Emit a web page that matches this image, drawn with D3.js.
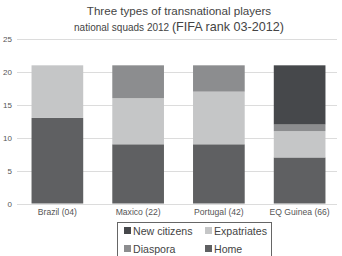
<!DOCTYPE html>
<html>
<head>
<meta charset="utf-8">
<script src="https://cdn.jsdelivr.net/npm/d3@7"></script>
<style>
  body { margin: 0; background: #fff; }
  svg { display: block; font-family: "Liberation Sans", Arial, sans-serif; }
</style>
</head>
<body>
<div id="chart"></div>
<script>
// data
var countries = ["Brazil (04)", "Maxico (22)", "Portugal (42)", "EQ Guinea (66)"];
var home = [13, 9, 9, 7];
var expatriates = [8, 7, 8, 4];
var diaspora = [0, 5, 4, 1];
var newCitizens = [0, 0, 0, 9];
var yTicks = [0, 5, 10, 15, 20, 25];

var seriesNames = ["Home", "Expatriates", "Diaspora", "New citizens"];
var seriesColors = ["#5f6062", "#c5c6c7", "#8c8d8f", "#46484b"];

var width = 342, height = 256;
var margin = {top: 39, left: 17, right: 2, bottom: 52};

var svg = d3.select("#chart").append("svg")
    .attr("width", width)
    .attr("height", height);

var table = countries.map(function(c, i) {
    return {country: c, "Home": home[i], "Expatriates": expatriates[i],
            "Diaspora": diaspora[i], "New citizens": newCitizens[i]};
});

var x = d3.scaleBand().domain(countries)
    .range([margin.left, width - margin.right])
    .paddingInner(0.36).paddingOuter(0.18);
var y = d3.scaleLinear().domain([0, 25]).range([203.5, 39]);

// gridlines
svg.append("g").selectAll("line")
    .data(yTicks)
    .join("line")
        .attr("x1", margin.left)
        .attr("x2", 337)
        .attr("y1", function(d) { return Math.round(y(d)) + 0.5; })
        .attr("y2", function(d) { return Math.round(y(d)) + 0.5; })
        .attr("stroke", "#dcdcdc")
        .attr("stroke-width", 1);

// y tick labels
svg.append("g").selectAll("text")
    .data(yTicks)
    .join("text")
        .attr("x", 12)
        .attr("y", function(d) { return y(d) + 3; })
        .attr("text-anchor", "end")
        .style("font-size", "8px")
        .style("fill", "#555")
        .text(function(d) { return d; });

// stacked bars
var stack = d3.stack().keys(seriesNames)(table);
svg.append("g").selectAll("g")
    .data(stack)
    .join("g")
        .attr("fill", function(d, i) { return seriesColors[i]; })
    .selectAll("rect")
    .data(function(d) { return d; })
    .join("rect")
        .attr("x", function(d) { return x(d.data.country); })
        .attr("width", x.bandwidth())
        .attr("y", function(d) { return y(d[1]); })
        .attr("height", function(d) { return y(d[0]) - y(d[1]); });

// x labels
svg.append("g").selectAll("text")
    .data(countries)
    .join("text")
        .attr("x", function(d) { return x(d) + x.bandwidth() / 2; })
        .attr("y", 215)
        .attr("text-anchor", "middle")
        .style("font-size", "8.6px")
        .style("fill", "#555")
        .text(function(d) { return d; });

// title
svg.append("text")
    .attr("x", 179)
    .attr("y", 15)
    .attr("text-anchor", "middle")
    .style("font-size", "11.6px")
    .style("fill", "#444")
    .text("Three types of transnational players");

var sub = svg.append("text")
    .attr("x", 179)
    .attr("y", 31)
    .attr("text-anchor", "middle")
    .style("fill", "#444");
sub.append("tspan").style("font-size", "10px").text("national squads 2012 ");
sub.append("tspan").style("font-size", "12.6px").text("(FIFA rank 03-2012)");

// legend
var legendItems = [
    {name: "New citizens", color: seriesColors[3], col: 0, row: 0},
    {name: "Expatriates", color: seriesColors[1], col: 1, row: 0},
    {name: "Diaspora", color: seriesColors[2], col: 0, row: 1},
    {name: "Home", color: seriesColors[0], col: 1, row: 1}
];
svg.append("rect")
    .attr("x", 117.5).attr("y", 222.5)
    .attr("width", 154).attr("height", 40)
    .attr("fill", "none")
    .attr("stroke", "#666")
    .attr("stroke-width", 1);

var lg = svg.append("g").selectAll("g")
    .data(legendItems)
    .join("g")
        .attr("transform", function(d) {
            return "translate(" + (124 + d.col * 81) + "," + (231 + d.row * 18) + ")";
        });
lg.append("rect")
    .attr("x", 0).attr("y", -4)
    .attr("width", 7).attr("height", 7)
    .attr("fill", function(d) { return d.color; });
lg.append("text")
    .attr("x", 9)
    .attr("y", 3.5)
    .style("font-size", "10.6px")
    .style("fill", "#444")
    .text(function(d) { return d.name; });
</script>
</body>
</html>
